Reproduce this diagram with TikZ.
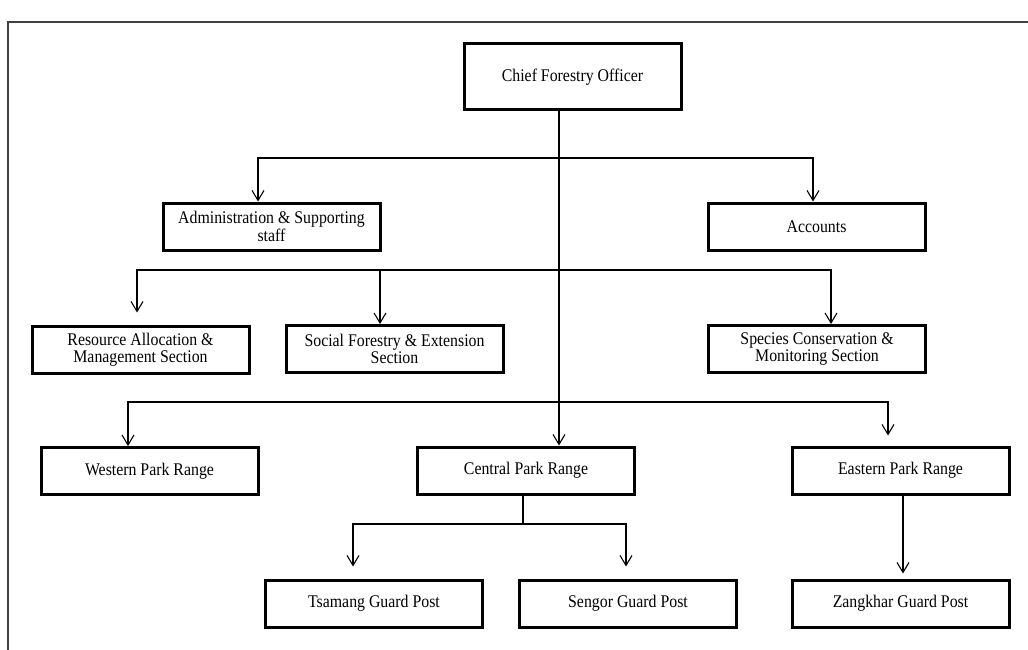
\documentclass[tikz,border=0pt]{standalone}
\usepackage{fontspec}
\setmainfont{Liberation Serif}[FakeStretch=0.89]
\usetikzlibrary{arrows.meta}

\begin{document}
\begin{tikzpicture}[x=1pt, y=-1pt,
    unit/.style={draw, line width=3pt, minimum width=217pt, minimum height=47pt,
      align=center, inner sep=2pt, font=\fontsize{17.8}{17.5}\selectfont},
    link/.style={line width=1.1pt},
    arr/.style={link, -{Straight Barb[length=10pt,width=12pt,line width=1.1pt]}}]
  \useasboundingbox (0,0) rectangle (1028,650);
  \draw[line width=1.4pt, black!75] (8,650) |- (1028,22);

  % boxes
  \node[unit, minimum height=66pt] (chief) at (572.5,77) {Chief Forestry Officer};
  \node[unit] (admin) at (271.5,226.5) {Administration \& Supporting\\staff};
  \node[unit] (accounts) at (816.5,226.5) {Accounts};
  \node[unit] (resource) at (140.5,349.5) {Resource Allocation \&\\Management Section};
  \node[unit] (social) at (394.5,349) {Social Forestry \& Extension\\Section};
  \node[unit] (species) at (817,349) {Species Conservation \&\\Monitoring Section};
  \node[unit] (western) at (149.5,471) {Western Park Range};
  \node[unit] (central) at (526,470.5) {Central Park Range};
  \node[unit] (eastern) at (900.5,470.5) {Eastern Park Range};
  \node[unit] (tsamang) at (374,603.5) {Tsamang Guard Post};
  \node[unit] (sengor) at (628,603.5) {Sengor Guard Post};
  \node[unit] (zangkhar) at (900.5,603.5) {Zangkhar Guard Post};

  % main spine and branch levels
  \coordinate (spine) at (559,0);
  \coordinate (busA) at (559,158);
  \coordinate (busB) at (559,270);
  \coordinate (busC) at (559,402);

  \draw[arr] (chief.south -| spine) -- (central.north -| spine);
  \draw[arr] (busA) -| ([xshift=-13.5pt]admin.north);
  \draw[arr] (busA) -| ([xshift=-3.5pt]accounts.north);
  \draw[arr, shorten >=12pt] (busB) -| ([xshift=-3.5pt]resource.north);
  \draw[arr] (busB) -| ([xshift=-14.5pt]social.north);
  \draw[arr] (busB) -| ([xshift=14pt]species.north);
  \draw[arr] (busC) -| ([xshift=-21.5pt]western.north);
  \draw[arr, shorten >=10pt] (busC) -| ([xshift=-12.5pt]eastern.north);

  % guard posts
  \draw[arr, shorten >=12pt] ([xshift=-3pt]central.south) -- ++(0,28.5) -| ([xshift=-21pt]tsamang.north);
  \draw[arr, shorten >=12pt] ([xshift=-3pt]central.south) -- ++(0,28.5) -| ([xshift=-2pt]sengor.north);
  \draw[arr, shorten >=5pt] ([xshift=2.5pt]eastern.south) -- ([xshift=2.5pt]zangkhar.north);
\end{tikzpicture}
\end{document}
